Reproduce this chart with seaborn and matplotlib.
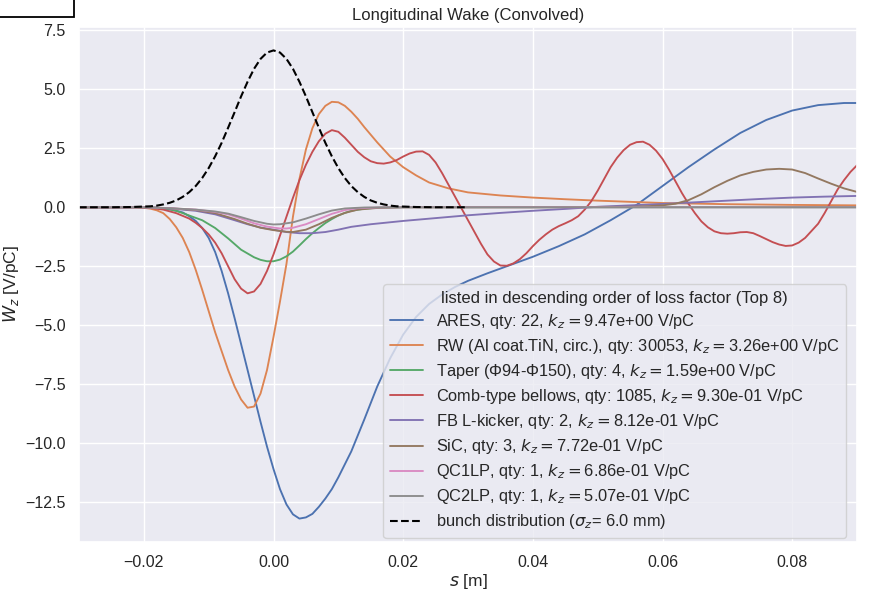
import numpy as np
import pandas as pd
import matplotlib
matplotlib.use("Agg")
import matplotlib.pyplot as plt
from matplotlib.patches import Rectangle
import seaborn as sns

# ---------------- data ----------------
ares_s = [-0.030, -0.020, -0.018, -0.016, -0.014, -0.013, -0.012, -0.011, -0.010, -0.009,
          -0.008, -0.007, -0.006, -0.005, -0.004, -0.003, -0.002, -0.001, 0.000, 0.001,
          0.002, 0.003, 0.004, 0.005, 0.006, 0.007, 0.008, 0.009, 0.010, 0.012,
          0.014, 0.016, 0.018, 0.020, 0.022, 0.024, 0.026, 0.028, 0.030, 0.033,
          0.036, 0.040, 0.044, 0.048, 0.052, 0.056, 0.060, 0.064, 0.068, 0.072,
          0.076, 0.080, 0.084, 0.088, 0.090]
ares_w = [0.0, 0.0, -0.02, -0.08, -0.22, -0.38, -0.58, -0.88, -1.30, -1.90,
          -2.70, -3.65, -4.70, -5.80, -6.90, -8.00, -9.10, -10.15, -11.10, -11.95,
          -12.60, -13.02, -13.20, -13.15, -13.00, -12.70, -12.35, -11.95, -11.45, -10.35,
          -9.00, -7.60, -6.40, -5.40, -4.65, -4.10, -3.70, -3.38, -3.12, -2.80,
          -2.50, -2.10, -1.65, -1.15, -0.55, 0.10, 0.90, 1.70, 2.45, 3.15,
          3.70, 4.10, 4.33, 4.42, 4.42]

rw_s = [-0.030, -0.022, -0.020, -0.019, -0.018, -0.017, -0.016, -0.015, -0.014, -0.013,
        -0.012, -0.011, -0.010, -0.009, -0.008, -0.007, -0.006, -0.005, -0.004, -0.003,
        -0.002, -0.001, 0.000, 0.001, 0.002, 0.003, 0.004, 0.005, 0.006, 0.007,
        0.008, 0.009, 0.010, 0.011, 0.012, 0.013, 0.014, 0.016, 0.018, 0.020,
        0.022, 0.024, 0.027, 0.030, 0.035, 0.040, 0.045, 0.050, 0.060, 0.070,
        0.080, 0.090]
rw_w = [0.0, 0.0, -0.02, -0.06, -0.13, -0.25, -0.50, -0.85, -1.30, -1.90,
        -2.65, -3.50, -4.40, -5.30, -6.10, -6.90, -7.60, -8.15, -8.50, -8.45,
        -7.90, -6.90, -5.50, -4.00, -2.40, -0.40, 1.20, 2.45, 3.35, 3.95,
        4.30, 4.47, 4.45, 4.30, 4.05, 3.75, 3.40, 2.75, 2.15, 1.70,
        1.35, 1.05, 0.80, 0.63, 0.50, 0.41, 0.34, 0.28, 0.18, 0.13,
        0.10, 0.08]

taper_s = [-0.030, -0.021, -0.019, -0.017, -0.015, -0.013, -0.011, -0.009, -0.007, -0.005,
           -0.003, -0.002, -0.001, 0.000, 0.001, 0.002, 0.003, 0.004, 0.005, 0.006,
           0.007, 0.008, 0.009, 0.010, 0.011, 0.012, 0.014, 0.016, 0.020, 0.090]
taper_w = [0.0, 0.0, -0.01, -0.04, -0.15, -0.35, -0.55, -0.88, -1.32, -1.80,
           -2.12, -2.23, -2.29, -2.29, -2.22, -2.08, -1.88, -1.62, -1.35, -1.10,
           -0.88, -0.67, -0.50, -0.35, -0.24, -0.15, -0.06, -0.02, 0.0, 0.0]

comb_s = [-0.030, -0.021, -0.019, -0.017, -0.015, -0.013, -0.012, -0.011, -0.010, -0.009,
          -0.008, -0.007, -0.006, -0.005, -0.004, -0.003, -0.002, -0.001, 0.000, 0.001,
          0.002, 0.003, 0.004, 0.005, 0.006, 0.007, 0.008, 0.009, 0.010, 0.011,
          0.012, 0.013, 0.014, 0.015, 0.016, 0.017, 0.018, 0.019, 0.020, 0.021,
          0.022, 0.023, 0.024, 0.025, 0.026, 0.027, 0.028, 0.029, 0.030, 0.031,
          0.032, 0.033, 0.034, 0.035, 0.036, 0.037, 0.038, 0.039, 0.040, 0.041,
          0.042, 0.043, 0.044, 0.045, 0.046, 0.047, 0.048, 0.049, 0.050, 0.051,
          0.052, 0.053, 0.054, 0.055, 0.056, 0.057, 0.058, 0.059, 0.060, 0.061,
          0.062, 0.063, 0.064, 0.065, 0.066, 0.067, 0.068, 0.069, 0.070, 0.071,
          0.072, 0.073, 0.074, 0.075, 0.076, 0.077, 0.078, 0.079, 0.080, 0.081,
          0.082, 0.083, 0.084, 0.085, 0.086, 0.087, 0.088, 0.089, 0.090]
comb_w = [0.0, 0.0, -0.03, -0.10, -0.25, -0.48, -0.66, -0.88, -1.15, -1.50,
          -1.95, -2.50, -3.05, -3.45, -3.65, -3.57, -3.25, -2.70, -2.00, -1.20,
          -0.40, 0.40, 1.15, 1.80, 2.35, 2.80, 3.12, 3.27, 3.20, 2.95,
          2.65, 2.35, 2.12, 1.95, 1.87, 1.85, 1.90, 2.00, 2.15, 2.28,
          2.36, 2.37, 2.22, 1.90, 1.45, 0.95, 0.45, -0.05, -0.55, -1.05,
          -1.55, -2.00, -2.30, -2.47, -2.48, -2.38, -2.20, -1.95, -1.65, -1.38,
          -1.15, -0.95, -0.80, -0.68, -0.55, -0.38, -0.10, 0.25, 0.70, 1.20,
          1.70, 2.10, 2.42, 2.65, 2.76, 2.78, 2.65, 2.40, 2.05, 1.60,
          1.10, 0.60, 0.15, -0.25, -0.60, -0.85, -1.02, -1.10, -1.12, -1.10,
          -1.06, -1.05, -1.10, -1.22, -1.35, -1.48, -1.58, -1.64, -1.62, -1.50,
          -1.30, -1.00, -0.70, -0.25, 0.25, 0.75, 1.15, 1.50, 1.78]

fbk_s = [-0.030, -0.020, -0.016, -0.012, -0.009, -0.006, -0.004, -0.002, 0.000, 0.002,
         0.004, 0.006, 0.008, 0.010, 0.012, 0.015, 0.020, 0.025, 0.030, 0.035,
         0.040, 0.045, 0.050, 0.055, 0.060, 0.065, 0.070, 0.075, 0.080, 0.085, 0.090]
fbk_w = [0.0, 0.0, -0.05, -0.15, -0.30, -0.55, -0.72, -0.86, -0.95, -1.05,
         -1.10, -1.10, -1.05, -0.95, -0.83, -0.72, -0.58, -0.46, -0.34, -0.24,
         -0.15, -0.07, 0.02, 0.08, 0.14, 0.21, 0.28, 0.35, 0.41, 0.45, 0.48]

sic_s = [-0.030, -0.020, -0.016, -0.012, -0.009, -0.006, -0.004, -0.002, 0.000, 0.002,
         0.003, 0.005, 0.007, 0.009, 0.011, 0.013, 0.016, 0.020, 0.040, 0.055,
         0.058, 0.060, 0.062, 0.064, 0.066, 0.068, 0.070, 0.072, 0.074, 0.076,
         0.078, 0.080, 0.082, 0.084, 0.086, 0.088, 0.090]
sic_w = [0.0, 0.0, -0.04, -0.12, -0.25, -0.50, -0.70, -0.87, -0.97, -1.04,
         -1.05, -0.95, -0.72, -0.45, -0.24, -0.10, -0.03, 0.0, 0.0, 0.02,
         0.05, 0.08, 0.15, 0.30, 0.55, 0.85, 1.12, 1.35, 1.50, 1.60,
         1.63, 1.60, 1.45, 1.22, 1.00, 0.80, 0.65]

qc1_s = [-0.030, -0.020, -0.016, -0.012, -0.009, -0.007, -0.005, -0.003, -0.001, 0.001,
         0.002, 0.003, 0.005, 0.007, 0.009, 0.011, 0.013, 0.016, 0.020, 0.090]
qc1_w = [0.0, 0.0, -0.04, -0.10, -0.20, -0.30, -0.48, -0.68, -0.82, -0.90,
         -0.90, -0.87, -0.72, -0.50, -0.28, -0.12, -0.04, -0.01, 0.0, 0.0]

qc2_s = [-0.030, -0.020, -0.016, -0.012, -0.009, -0.007, -0.005, -0.003, -0.001, 0.000,
         0.001, 0.003, 0.005, 0.007, 0.009, 0.011, 0.014, 0.020, 0.090]
qc2_w = [0.0, 0.0, -0.04, -0.10, -0.18, -0.27, -0.42, -0.58, -0.70, -0.73,
         -0.72, -0.64, -0.48, -0.30, -0.14, -0.05, -0.01, 0.0, 0.0]

bunch_s = [-0.030, -0.025, -0.022, -0.020, -0.019, -0.018, -0.017, -0.016, -0.015, -0.014,
           -0.013, -0.012, -0.011, -0.010, -0.009, -0.008, -0.007, -0.006, -0.005, -0.004,
           -0.003, -0.002, -0.001, 0.000, 0.001, 0.002, 0.003, 0.004, 0.005, 0.006,
           0.007, 0.008, 0.009, 0.010, 0.011, 0.012, 0.013, 0.014, 0.015, 0.016,
           0.017, 0.018, 0.019, 0.020, 0.022, 0.025, 0.030]
bunch_w = [0.00, 0.00, 0.01, 0.03, 0.04, 0.07, 0.12, 0.19, 0.29, 0.44,
           0.64, 0.90, 1.24, 1.66, 2.16, 2.73, 3.37, 4.03, 4.70, 5.32,
           5.87, 6.29, 6.56, 6.65, 6.56, 6.29, 5.87, 5.32, 4.70, 4.03,
           3.37, 2.73, 2.16, 1.66, 1.24, 0.90, 0.64, 0.44, 0.29, 0.19,
           0.12, 0.07, 0.04, 0.03, 0.01, 0.00, 0.00]

names = ["ARES", "RW (Al coat.TiN, circ.)", "Taper (\u03a694-\u03a6150)", "Comb-type bellows",
         "FB L-kicker", "SiC", "QC1LP", "QC2LP"]
qty = [22, 30053, 4, 1085, 2, 3, 1, 1]
kz = ["9.47e+00", "3.26e+00", "1.59e+00", "9.30e-01", "8.12e-01", "7.72e-01", "6.86e-01", "5.07e-01"]
sigma_z_mm = "6.0"

series_s = [ares_s, rw_s, taper_s, comb_s, fbk_s, sic_s, qc1_s, qc2_s]
series_w = [ares_w, rw_w, taper_w, comb_w, fbk_w, sic_w, qc1_w, qc2_w]

# ---------------- plot ----------------
sns.set_theme(style="darkgrid")
plt.rcParams["font.family"] = ["Liberation Sans", "DejaVu Sans"]

W, H = 871, 591
fig = plt.figure(figsize=(W / 100, H / 100), dpi=100)
ax = fig.add_axes([79 / W, 1 - 542 / H, (857 - 79) / W, (542 - 27) / H])

palette = sns.color_palette("deep", 8)
for i in range(8):
    df = pd.DataFrame({"s": series_s[i], "W": series_w[i]})
    label = f"{names[i]}, qty: {qty[i]}, $k_z = ${kz[i]} V/pC"
    sns.lineplot(data=df, x="s", y="W", ax=ax, color=palette[i], lw=1.35,
                 label=label, sort=False, estimator=None)

dfb = pd.DataFrame({"s": bunch_s, "W": bunch_w})
sns.lineplot(data=dfb, x="s", y="W", ax=ax, color="black", lw=1.5, linestyle="--",
             label=f"bunch distribution ($\\sigma_z$= {sigma_z_mm} mm)", sort=False, estimator=None)

ax.set_xlim(-0.03, 0.09)
ax.set_title("Longitudinal Wake (Convolved)", fontsize=12, pad=5)
ax.set_xlabel("$s$ [m]", fontsize=12.5, labelpad=1)
ax.set_ylabel("$W_z$ [V/pC]", fontsize=12.5, labelpad=3)
ax.tick_params(labelsize=11.5)

leg = ax.legend(loc="lower right", bbox_to_anchor=(846 / W, 1 - 538 / H),
                bbox_transform=fig.transFigure, borderaxespad=0,
                title="listed in descending order of loss factor (Top 8)",
                fontsize=11.8, title_fontsize=12, labelspacing=0.37)

# partial box at the top-left corner of the picture
fig.patches.append(Rectangle((-10 / W, 1 - 17 / H), 84 / W, 40 / H,
                             transform=fig.transFigure, fill=False, edgecolor="black",
                             linewidth=1.3, clip_on=False))

fig.savefig("out.png", dpi=100)
